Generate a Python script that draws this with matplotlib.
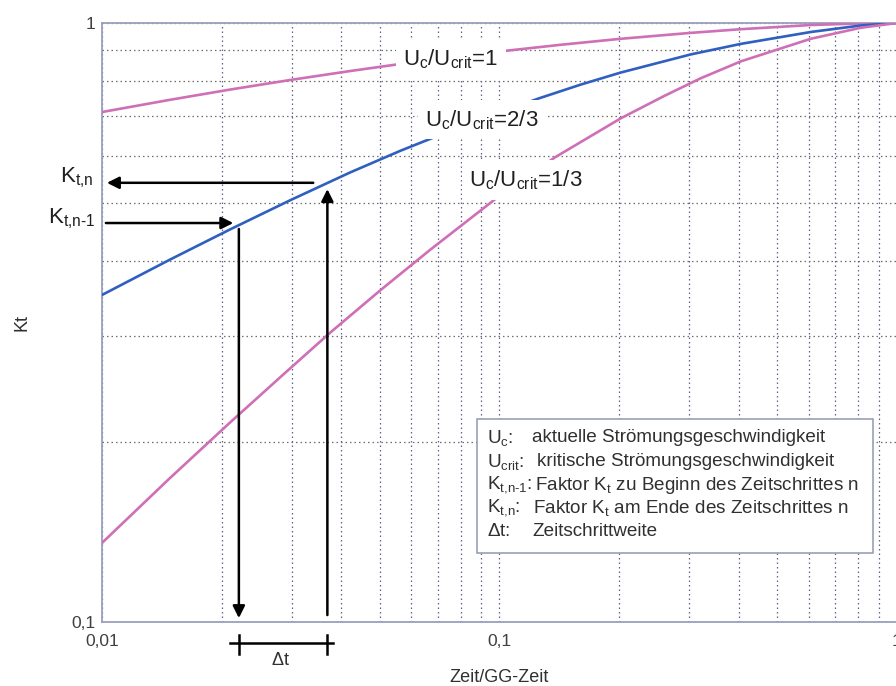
import matplotlib
matplotlib.use("Agg")
import matplotlib.pyplot as plt
from matplotlib.patches import Rectangle
from matplotlib.ticker import FixedLocator, FixedFormatter, NullFormatter

plt.rcParams['font.family'] = ['Liberation Sans', 'DejaVu Sans']
plt.rcParams['mathtext.fontset'] = 'custom'
plt.rcParams['mathtext.rm'] = 'Liberation Sans'
plt.rcParams['mathtext.default'] = 'regular'

# Kt over Zeit/GG-Zeit for the three velocity ratios Uc/Ucrit
t_full = [0.01, 0.01483, 0.02101, 0.02975, 0.04214, 0.05631, 0.07524, 0.1023,
          0.1425, 0.2017, 0.3029, 0.4047, 0.6072, 0.8115, 1.0]
kt_full = [0.7101, 0.7443, 0.7742, 0.8032, 0.8314, 0.8542, 0.8758, 0.8976,
           0.9196, 0.9410, 0.9627, 0.9764, 0.9923, 0.9981, 1.0]

t_two_thirds = [0.01, 0.01483, 0.02101, 0.02975, 0.04214, 0.05631, 0.07101, 0.09491,
                0.1254, 0.16, 0.2017, 0.3029, 0.4047, 0.6072, 0.8115, 1.0]
kt_two_thirds = [0.3515, 0.4027, 0.4523, 0.5059, 0.5631, 0.6118, 0.6506, 0.6999,
                 0.7481, 0.7890, 0.8264, 0.8862, 0.9228, 0.9660, 0.9904, 1.0]

t_one_third = [0.01, 0.0148, 0.021, 0.0281, 0.0375, 0.0502, 0.067, 0.0989,
               0.138, 0.202, 0.26, 0.321, 0.405, 0.607, 0.81, 1.0]
kt_one_third = [0.1355, 0.1737, 0.2153, 0.2563, 0.3041, 0.3581, 0.4184, 0.5117,
                0.5968, 0.6933, 0.7557, 0.8087, 0.8630, 0.9411, 0.9817, 1.0]

# time step n-1 -> n read on the 2/3 curve
t_prev, t_next = 0.0221, 0.0369
kt_prev, kt_next = 0.4635, 0.541

legend_keys = [r'$U_c$:', r'$U_{crit}$:', r'$K_{\text{t,n-1}}$:', r'$K_{\text{t,n}}$:', r'$\Delta$t:']
legend_texts = ['aktuelle Strömungsgeschwindigkeit',
                'kritische Strömungsgeschwindigkeit',
                r'Faktor $K_t$ zu Beginn des Zeitschrittes n',
                r'Faktor $K_t$ am Ende des Zeitschrittes n',
                'Zeitschrittweite']

pink = '#cf6fb6'
blue = '#2f5fbf'

fig = plt.figure(figsize=(8.96, 6.86), dpi=100)
ax = fig.add_axes([0.1138, 0.0933, 0.8873, 0.8732])
ax.set_xscale('log')
ax.set_yscale('log')
ax.set_xlim(0.01, 1)
ax.set_ylim(0.1, 1)

ax.plot(t_full, kt_full, color=pink, lw=1.9, zorder=3)
ax.plot(t_two_thirds, kt_two_thirds, color=blue, lw=1.9, zorder=3)
ax.plot(t_one_third, kt_one_third, color=pink, lw=1.9, zorder=3)

# grid: decades plus 2..9 subdivisions
ax.xaxis.set_major_locator(FixedLocator([0.01, 0.1, 1]))
ax.xaxis.set_major_formatter(FixedFormatter(['0,01', '0,1', '1']))
ax.yaxis.set_major_locator(FixedLocator([0.1, 1]))
ax.yaxis.set_major_formatter(FixedFormatter(['0,1', '1']))
ax.xaxis.set_minor_locator(FixedLocator([m * d for d in (0.01, 0.1) for m in range(2, 10)]))
ax.yaxis.set_minor_locator(FixedLocator([m * 0.1 for m in range(2, 10)]))
ax.xaxis.set_minor_formatter(NullFormatter())
ax.yaxis.set_minor_formatter(NullFormatter())
ax.grid(True, which='both', axis='x', color='#5c6288', ls=(0, (1.2, 2.4)), lw=0.9)
ax.grid(True, which='both', axis='y', color='#6e6e66', ls=(0, (1.2, 2.4)), lw=0.9)
ax.tick_params(which='both', length=0, labelsize=12.5, labelcolor='#404040')
ax.tick_params(axis='x', pad=9)
ax.tick_params(axis='y', pad=5)
for s in ax.spines.values():
    s.set_color('#9aa0bc')
    s.set_linewidth(1.3)

ax.set_xlabel('Zeit/GG-Zeit', fontsize=13, color='#303030', labelpad=14)
ax.set_ylabel('Kt', fontsize=13, color='#303030', labelpad=29)

# curve labels, white box cuts the line behind them
lab_box = dict(facecolor='white', edgecolor='none', boxstyle='square,pad=0.35')
ax.text(0.0573, 0.851, r'$U_c/U_{crit}$=1', fontsize=16, color='#202020',
        va='baseline', bbox=lab_box, zorder=4)
ax.text(0.0651, 0.673, r'$U_c/U_{crit}$=2/3', fontsize=16, color='#202020',
        va='baseline', bbox=lab_box, zorder=4)
ax.text(0.084, 0.534, r'$U_c/U_{crit}$=1/3', fontsize=16, color='#202020',
        va='baseline', bbox=lab_box, zorder=4)

# arrows for Kt,n-1 and Kt,n
arr = dict(arrowstyle='-|>', color='black', lw=1.8, mutation_scale=18, shrinkA=0, shrinkB=0)
ax.annotate('', xy=(0.01029, kt_next), xytext=(0.034, kt_next), arrowprops=arr, zorder=5)
ax.annotate('', xy=(0.0214, kt_prev), xytext=(0.01023, kt_prev), arrowprops=arr, zorder=5)
ax.annotate('', xy=(t_prev, 0.1015), xytext=(t_prev, 0.453), arrowprops=arr, zorder=5)
ax.annotate('', xy=(t_next, 0.528), xytext=(t_next, 0.1027), arrowprops=arr, zorder=5)

ax.text(0.00949, kt_next, r'$K_{\text{t,n}}$', fontsize=16, color='#202020', ha='right', va='baseline')
ax.text(0.00962, kt_prev, r'$K_{\text{t,n-1}}$', fontsize=16, color='#202020', ha='right', va='baseline')

# delta t bracket below the axis
ax.plot([0.021, 0.0381], [0.0922, 0.0922], color='black', lw=1.8, clip_on=False)
for tx in (t_prev, t_next):
    ax.plot([tx, tx], [0.0951, 0.0885], color='black', lw=1.8, clip_on=False)
ax.text(0.0281, 0.0862, r'$\Delta$t', fontsize=13, color='#303030', ha='center', va='center')

# explanation box
ax.add_patch(Rectangle((0.4717, 0.1152), 0.4981, 0.2237, transform=ax.transAxes,
                       facecolor='white', edgecolor='#9098b0', lw=1.1, zorder=6))
row_y = [0.3072, 0.2671, 0.2287, 0.1903, 0.1503]
text_x = [0.5409, 0.5472, 0.5447, 0.5421, 0.5409]
for key, txt, yy, xx in zip(legend_keys, legend_texts, row_y, text_x):
    ax.text(0.4843, yy, key, transform=ax.transAxes, fontsize=13.6, color='#303030',
            va='center', zorder=7)
    ax.text(xx, yy, txt, transform=ax.transAxes, fontsize=13.6, color='#303030',
            va='center', zorder=7)

fig.savefig('out.png', dpi=100)
